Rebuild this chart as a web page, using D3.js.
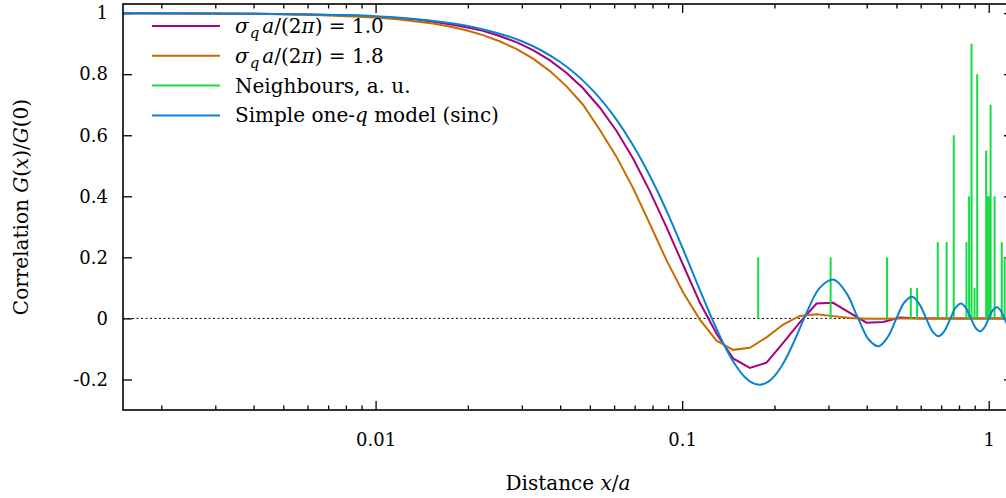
<!DOCTYPE html>
<html>
<head>
<meta charset="utf-8">
<script src="https://cdn.jsdelivr.net/npm/d3@7"></script>
<style>
body { margin: 0; background: #fff; }
text { font-family: "DejaVu Serif", serif; fill: #000; }
</style>
</head>
<body>
<div id="chart"></div>
<script>
// sampling grid of the two sigma_q curves (x in units of a)
var gridX = [0.0015, 0.004, 0.006, 0.0085, 0.01056, 0.01197, 0.01357, 0.01538, 0.01743, 0.01976,
  0.0224, 0.02539, 0.02878, 0.03262, 0.03697, 0.04191, 0.0475, 0.05384, 0.06103, 0.06918,
  0.07841, 0.08888, 0.10075, 0.1142, 0.1295, 0.1466, 0.1663, 0.1885, 0.2135, 0.242,
  0.2744, 0.3108, 0.3524, 0.3995, 0.4524, 0.5129, 0.6, 1.2];
var sigma10 = [1.000, 0.998, 0.996, 0.992, 0.987, 0.983, 0.979, 0.972, 0.964, 0.954,
  0.942, 0.925, 0.905, 0.879, 0.846, 0.805, 0.754, 0.691, 0.615, 0.524,
  0.417, 0.299, 0.175, 0.052, -0.050, -0.131, -0.162, -0.145, -0.080, -0.013,
  0.049, 0.051, 0.018, -0.014, -0.012, 0.003, 0.0, 0.0];
var sigma18 = [1.000, 0.998, 0.995, 0.989, 0.984, 0.979, 0.973, 0.966, 0.956, 0.944,
  0.928, 0.908, 0.883, 0.851, 0.811, 0.761, 0.700, 0.618, 0.530, 0.427,
  0.310, 0.191, 0.085, -0.004, -0.073, -0.103, -0.096, -0.062, -0.020, 0.008,
  0.014, 0.0075, 0.001, -0.001, -0.001, 0.0, 0.0, 0.0];

// simple one-q model (sinc)
var sincX = [0.0015, 0.003, 0.005, 0.01, 0.015, 0.02, 0.03, 0.04, 0.05, 0.06,
  0.07, 0.08, 0.09, 0.1, 0.11, 0.12, 0.125, 0.13, 0.14, 0.15,
  0.16, 0.17, 0.18, 0.19, 0.2, 0.21, 0.22, 0.23, 0.24, 0.25,
  0.281, 0.3125, 0.344, 0.375, 0.406, 0.4375, 0.469, 0.5, 0.531, 0.5625,
  0.594, 0.625, 0.656, 0.6875, 0.719, 0.75, 0.781, 0.8125, 0.844, 0.875,
  0.906, 0.9375, 0.969, 1.0, 1.031, 1.0625, 1.094, 1.125, 1.156, 1.1875, 1.219];
var sincY = [1.000, 0.999, 0.997, 0.990, 0.976, 0.958, 0.908, 0.840, 0.757, 0.662,
  0.558, 0.450, 0.341, 0.234, 0.133, 0.042, 0.0, -0.038, -0.105, -0.156,
  -0.192, -0.212, -0.217, -0.209, -0.189, -0.160, -0.124, -0.083, -0.041, 0.0,
  0.100, 0.127, 0.082, 0.0, -0.069, -0.091, -0.060, 0.0, 0.053, 0.071,
  0.047, 0.0, -0.043, -0.058, -0.039, 0.0, 0.036, 0.049, 0.033, 0.0,
  -0.031, -0.042, -0.029, 0.0, 0.027, 0.037, 0.026, 0.0, -0.024, -0.034, -0.023];

// neighbour distances (impulses, arbitrary units)
var neighX = [0.177, 0.305, 0.466, 0.557, 0.584, 0.682, 0.729, 0.769, 0.846, 0.863,
  0.879, 0.899, 0.917, 0.981, 0.991, 1.003, 1.014, 1.045, 1.103, 1.127];
var neighY = [0.2, 0.2, 0.2, 0.1, 0.1, 0.25, 0.25, 0.6, 0.25, 0.4,
  0.9, 0.1, 0.8, 0.55, 0.4, 0.4, 0.7, 0.4, 0.25, 0.2];

var yTicks = [-0.2, 0, 0.2, 0.4, 0.6, 0.8, 1];
var xMajor = [0.01, 0.1, 1];
var xMinor = [0.002, 0.003, 0.004, 0.005, 0.006, 0.007, 0.008, 0.009,
  0.02, 0.03, 0.04, 0.05, 0.06, 0.07, 0.08, 0.09,
  0.2, 0.3, 0.4, 0.5, 0.6, 0.7, 0.8, 0.9];

var colMag = "#a8007e", colOra = "#c86c00", colGre = "#14dc46", colBlu = "#0a82d2";

// the right frame sits just outside the picture
var margin = {top: 4, left: 123},
    width = 1013 - 123,
    height = 410 - 4;

var svg = d3.select("#chart").append("svg")
    .attr("width", 1006)
    .attr("height", 498);
var g = svg.append("g")
    .attr("transform", "translate(" + margin.left + "," + margin.top + ")");

var x = d3.scaleLog().domain([0.0015, 1.2]).range([0, width]);
var y = d3.scaleLinear().domain([-0.3, 1.03]).range([height, 0]);

g.append("clipPath").attr("id", "clip")
  .append("rect").attr("width", width).attr("height", height);

// axes, ticks inward
function styleAxis(sel) {
  sel.select(".domain").remove();
  sel.selectAll(".tick line").attr("stroke", "#000").attr("stroke-width", 1.3);
  sel.selectAll("text").style("font-family", "DejaVu Serif").style("font-size", "18px");
}
g.append("g").attr("transform", "translate(0," + height + ")")
  .call(d3.axisBottom(x).tickValues(xMajor).tickSize(-9).tickSizeOuter(0).tickPadding(23)
    .tickFormat(function(d) { return d3.format("")(d); }))
  .call(styleAxis);
g.append("g").attr("transform", "translate(0," + height + ")")
  .call(d3.axisBottom(x).tickValues(xMinor).tickSize(-4.5).tickSizeOuter(0).tickFormat(""))
  .call(styleAxis);
g.append("g")
  .call(d3.axisTop(x).tickValues(xMajor).tickSize(-9).tickSizeOuter(0).tickFormat(""))
  .call(styleAxis);
g.append("g")
  .call(d3.axisTop(x).tickValues(xMinor).tickSize(-4.5).tickSizeOuter(0).tickFormat(""))
  .call(styleAxis);
g.append("g")
  .call(d3.axisLeft(y).tickValues(yTicks).tickSize(-9).tickSizeOuter(0).tickPadding(15)
    .tickFormat(function(d) { return String(d); }))
  .call(styleAxis);
g.append("g").attr("transform", "translate(" + width + ",0)")
  .call(d3.axisRight(y).tickValues(yTicks).tickSize(-9).tickSizeOuter(0).tickFormat(""))
  .call(styleAxis);

// zero line
g.append("line")
  .attr("x1", 0).attr("x2", width)
  .attr("y1", y(0)).attr("y2", y(0))
  .attr("stroke", "#000").attr("stroke-width", 1)
  .attr("stroke-dasharray", "2,2.5");

var plot = g.append("g").attr("clip-path", "url(#clip)");

function pairs(xs, ys) { return xs.map(function(d, i) { return [d, ys[i]]; }); }

var line = d3.line()
  .x(function(d) { return x(d[0]); })
  .y(function(d) { return y(d[1]); });

plot.append("path").datum(pairs(gridX, sigma10))
  .attr("d", line).attr("fill", "none")
  .attr("stroke", colMag).attr("stroke-width", 2);
plot.append("path").datum(pairs(gridX, sigma18))
  .attr("d", line).attr("fill", "none")
  .attr("stroke", colOra).attr("stroke-width", 2);

plot.selectAll(".neigh")
  .data(pairs(neighX, neighY))
  .enter().append("line")
    .attr("class", "neigh")
    .attr("x1", function(d) { return x(d[0]); })
    .attr("x2", function(d) { return x(d[0]); })
    .attr("y1", y(0))
    .attr("y2", function(d) { return y(d[1]); })
    .attr("stroke", colGre).attr("stroke-width", 2);

plot.append("path").datum(pairs(sincX, sincY))
  .attr("d", line.curve(d3.curveCatmullRom.alpha(0.5)))
  .attr("fill", "none")
  .attr("stroke", colBlu).attr("stroke-width", 2);

// frame
g.append("rect")
  .attr("width", width).attr("height", height)
  .attr("fill", "none").attr("stroke", "#000").attr("stroke-width", 1.6);

// legend: each label is a list of [text, style] pieces
var legendItems = [
  {color: colMag, parts: [["σ", "i"], ["q", "sub"], ["a", "ia"], ["/(2", ""], ["π", "i"], [") = 1.0", ""]]},
  {color: colOra, parts: [["σ", "i"], ["q", "sub"], ["a", "ia"], ["/(2", ""], ["π", "i"], [") = 1.8", ""]]},
  {color: colGre, parts: [["Neighbours, a. u.", ""]]},
  {color: colBlu, parts: [["Simple one-", ""], ["q", "i"], [" model (sinc)", ""]]}
];

var legend = g.append("g").attr("transform", "translate(29,22)");
legendItems.forEach(function(item, i) {
  var row = legend.append("g").attr("transform", "translate(0," + (i * 29.8) + ")");
  row.append("line").attr("x1", 0).attr("x2", 68)
    .attr("stroke", item.color).attr("stroke-width", 2);
  var t = row.append("text").attr("x", 83).attr("y", 7).style("font-size", "20px");
  item.parts.forEach(function(p) {
    var ts = t.append("tspan").text(p[0]);
    if (p[1] === "i") ts.style("font-style", "italic");
    if (p[1] === "sub") ts.style("font-style", "italic").style("font-size", "15px").attr("dy", 5).attr("dx", 1);
    if (p[1] === "ia") ts.style("font-style", "italic").attr("dy", -5).attr("dx", 3);
  });
});

// axis titles
var xt = svg.append("text")
  .attr("x", margin.left + width / 2).attr("y", 490)
  .attr("text-anchor", "middle").style("font-size", "20px");
xt.append("tspan").text("Distance ");
xt.append("tspan").style("font-style", "italic").text("x");
xt.append("tspan").text("/");
xt.append("tspan").style("font-style", "italic").text("a");

var yt = svg.append("text")
  .attr("transform", "translate(28," + (margin.top + height / 2) + ") rotate(-90)")
  .attr("text-anchor", "middle").style("font-size", "20px");
yt.append("tspan").text("Correlation ");
yt.append("tspan").style("font-style", "italic").text("G");
yt.append("tspan").text("(");
yt.append("tspan").style("font-style", "italic").text("x");
yt.append("tspan").text(")/");
yt.append("tspan").style("font-style", "italic").text("G");
yt.append("tspan").text("(0)");
</script>
</body>
</html>
